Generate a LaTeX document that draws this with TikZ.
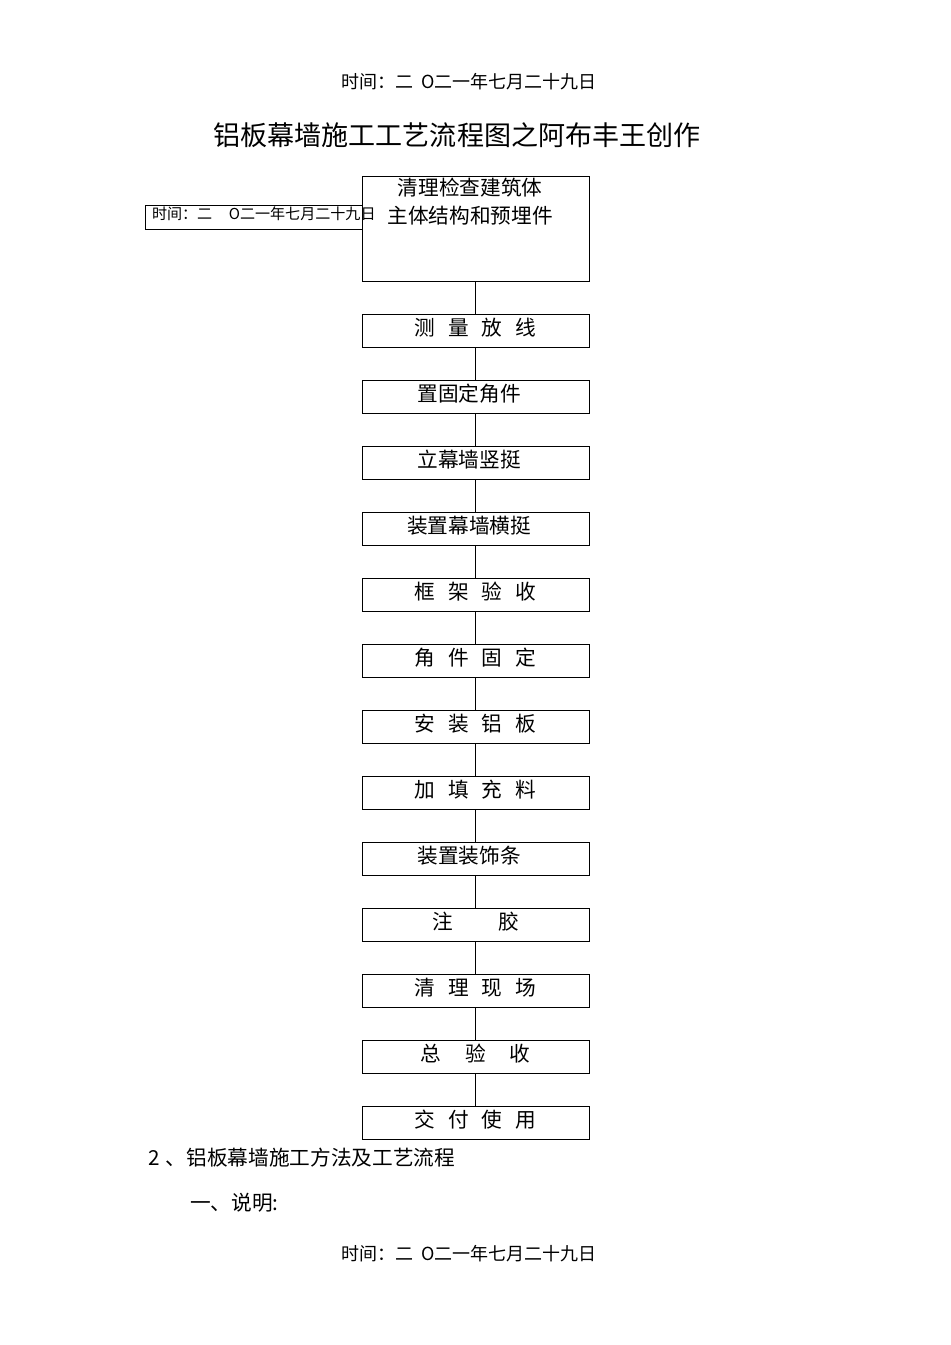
\documentclass[tikz,border=0pt]{standalone}
\usepackage{fontspec}
\setmainfont{Noto Sans CJK SC}
\usetikzlibrary{positioning}
\newcommand{\gp}[1]{\hspace{#1em}}
\newcommand{\tailgap}{\hspace{0.6em}\null}

\begin{document}
\begin{tikzpicture}[x=0.75pt, y=-0.75pt, inner sep=0pt, outer sep=0pt]
  \tikzset{flowbox/.style={draw=black, line width=0.7pt, minimum width=170.25pt,
      minimum height=24.75pt, text height=13.5pt, text depth=6.5pt,
      font=\fontsize{15.5}{18}\selectfont},
    link/.style={draw=black, line width=0.7pt},
    datetext/.style={font=\fontsize{13.5}{16}\selectfont}}
  \useasboundingbox (0,0) rectangle (950,1345);
  % header and title
  \node[datetext] (datetop) at (469,82) {时间：二\gp{0.45}O二一年七月二十九日};
  \node[font=\fontsize{20.3}{24}\selectfont] (title) at (457,135) {铝板幕墙施工工艺流程图之阿布丰王创作};
  % side stamp
  \path[draw=black, line width=0.7pt] (145,205) rectangle (362,229);
  \node[anchor=west, font=\fontsize{11.3}{13}\selectfont] (stamp) at (152,214) {时间：二\gp{1.1}O二一年七月二十九日};
  % first box
  \node[flowbox, minimum height=78.75pt] (p1) at (475.5,228.5) {};
  \node[align=center, font=\fontsize{15.5}{21}\selectfont] (p1text) at (470,202)
    {清理检查建筑体\\主体结构和预埋件};
  % remaining steps
  \foreach \i/\t in {2/测\gp{0.62}量\gp{0.62}放\gp{0.62}线, 3/置固定角件\tailgap, 4/立幕墙竖挺\tailgap,
      5/装置幕墙横挺\tailgap, 6/框\gp{0.62}架\gp{0.62}验\gp{0.62}收, 7/角\gp{0.62}件\gp{0.62}固\gp{0.62}定,
      8/安\gp{0.62}装\gp{0.62}铝\gp{0.62}板, 9/加\gp{0.62}填\gp{0.62}充\gp{0.62}料, 10/装置装饰条\tailgap,
      11/注\gp{2.2}胶, 12/清\gp{0.62}理\gp{0.62}现\gp{0.62}场, 13/总\gp{1.15}验\gp{1.15}收,
      14/交\gp{0.62}付\gp{0.62}使\gp{0.62}用}
    \node[flowbox] (p\i) at (475.5,{330.5+66*(\i-2)}) {\t};
  \foreach \i in {1,...,13}{
    \pgfmathtruncatemacro{\j}{\i+1}
    \path[link] (p\i.south) -- (p\j.north);
  }
  % text below
  \node[anchor=west, font=\fontsize{15.5}{18}\selectfont] (sec) at (148,1158) {2\gp{0.3}、铝板幕墙施工方法及工艺流程};
  \node[anchor=west, font=\fontsize{15.5}{18}\selectfont] (note) at (190,1203) {一、说明:};
  \node[datetext] (datebottom) at (469,1254) {时间：二\gp{0.45}O二一年七月二十九日};
\end{tikzpicture}
\end{document}
